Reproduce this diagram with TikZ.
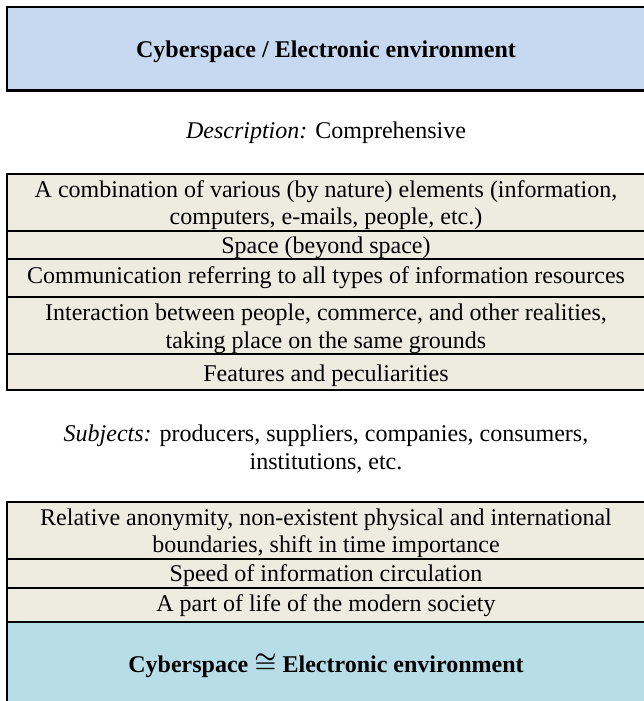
\documentclass[tikz,border=0pt]{standalone}
\usepackage{fontspec}
\setmainfont{Liberation Serif}
\definecolor{topblue}{HTML}{C6D9F1}
\definecolor{beige}{HTML}{EEECE1}
\definecolor{botblue}{HTML}{B7DDE8}
\begin{document}
\begin{tikzpicture}[x=1pt,y=-1pt,
  rowbox/.style={draw=black,line width=2.2pt,fill=beige},
  titlebox/.style={draw=black,line width=2.2pt},
  celltext/.style={anchor=base,align=center,inner sep=0pt,font=\fontsize{24}{27.5}\selectfont},
  titletext/.style={anchor=base,align=center,inner sep=0pt,font=\fontsize{24}{27.5}\selectfont\bfseries}]
\useasboundingbox (0,0) rectangle (643,701);
\fill[white] (0,0) rectangle (643,701);
% top title box
\draw[titlebox,fill=topblue] (7,7) rectangle (645.5,90.5);
\node[titletext] (title) at (326,58) {Cyberspace / Electronic environment};
% description
\node[celltext] (desc) at (326,138) {\textit{Description:} Comprehensive};
% middle table (anchor = baseline of last line)
\draw[rowbox] (7,174) rectangle (645.5,231);
\draw[rowbox] (7,231) rectangle (645.5,259);
\draw[rowbox] (7,259) rectangle (645.5,297);
\draw[rowbox] (7,297) rectangle (645.5,354);
\draw[rowbox] (7,354) rectangle (645.5,390);
\node[celltext] (m1) at (326,224.5) {A combination of various (by nature) elements (information,\\computers, e-mails, people, etc.)};
\node[celltext] (m2) at (326,253) {Space (beyond space)};
\node[celltext] (m3) at (326,283) {Communication referring to all types of information resources};
\node[celltext] (m4) at (326,348) {Interaction between people, commerce, and other realities,\\taking place on the same grounds};
\node[celltext] (m5) at (326,381) {Features and peculiarities};
% subjects
\node[celltext] (subj) at (326,469) {\textit{Subjects:} producers, suppliers, companies, consumers,\\institutions, etc.};
% bottom table
\draw[rowbox] (7,502) rectangle (645.5,559);
\draw[rowbox] (7,559) rectangle (645.5,588);
\draw[rowbox] (7,588) rectangle (645.5,622);
\draw[titlebox,fill=botblue] (7,622) rectangle (645.5,708);
\node[celltext] (b1) at (326,552.5) {Relative anonymity, non-existent physical and international\\boundaries, shift in time importance};
\node[celltext] (b2) at (326,581) {Speed of information circulation};
\node[celltext] (b3) at (326,611) {A part of life of the modern society};
\node[titletext] (final) at (326,672) {Cyberspace {\boldmath$\cong$} Electronic environment};
\end{tikzpicture}
\end{document}
